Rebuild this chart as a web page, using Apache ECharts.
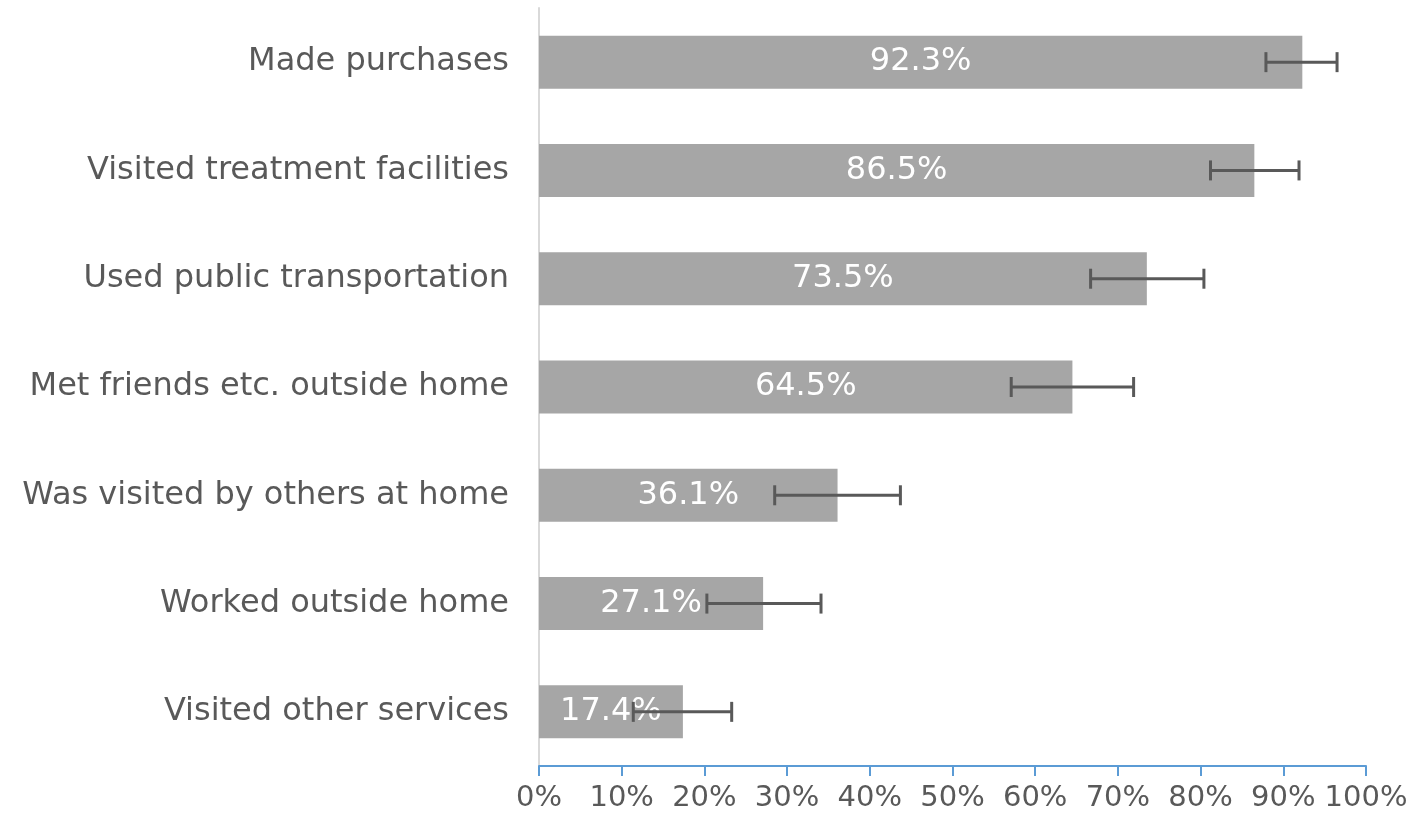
<!DOCTYPE html>
<html lang="en">
<head>
  <meta charset="UTF-8">
  <title>Activities</title>
  <script src="https://cdn.jsdelivr.net/npm/echarts@6/dist/echarts.min.js"></script>
  <style>
    html, body { margin: 0; padding: 0; background: #ffffff; }
    #chart { width: 1418px; height: 819px; }
  </style>
</head>
<body>
<div id="chart"></div>
<script type="text/javascript">
// categories top to bottom
var categories = ['Made purchases', 'Visited treatment facilities', 'Used public transportation',
  'Met friends etc. outside home', 'Was visited by others at home', 'Worked outside home',
  'Visited other services'];
var values = [92.3, 86.5, 73.5, 64.5, 36.1, 27.1, 17.4];
// error bar ends
var errLow = [87.9, 81.2, 66.7, 57.1, 28.5, 20.3, 11.4];
var errHigh = [96.5, 91.9, 80.4, 71.9, 43.7, 34.1, 23.3];
var tickValues = [0, 10, 20, 30, 40, 50, 60, 70, 80, 90, 100];

var errData = [];
for (var i = 0; i < categories.length; i++) {
  errData.push([i, errLow[i], errHigh[i]]);
}

var myChart = echarts.init(document.getElementById('chart'));
var font = 'DejaVu Sans, Verdana, sans-serif';

var option = {
  animation: false,
  grid: { left: 539, right: 52, top: 8, bottom: 53 },
  xAxis: {
    type: 'value',
    min: 0,
    max: 100,
    interval: 10,
    splitLine: { show: false },
    axisLine: { show: true, lineStyle: { color: '#5b9bd5', width: 2 } },
    axisTick: { show: true, length: 10, lineStyle: { color: '#5b9bd5', width: 2 } },
    axisLabel: {
      color: '#595959',
      fontFamily: font,
      fontSize: 29,
      margin: 18,
      formatter: function (v) { return tickValues.indexOf(v) >= 0 ? v + '%' : ''; }
    }
  },
  yAxis: {
    type: 'category',
    inverse: true,
    data: categories,
    axisLine: { show: true, lineStyle: { color: '#d9d9d9', width: 2 } },
    axisTick: { show: false },
    axisLabel: {
      color: '#595959',
      fontFamily: font,
      fontSize: 32,
      margin: 30
    }
  },
  series: [
    {
      type: 'bar',
      data: values,
      barWidth: 53,
      itemStyle: { color: '#a6a6a6' },
      label: {
        show: true,
        position: 'inside',
        color: '#ffffff',
        fontFamily: font,
        fontSize: 32,
        formatter: function (p) { return p.value.toFixed(1) + '%'; }
      },
      z: 2
    },
    {
      type: 'custom',
      data: errData,
      z: 10,
      renderItem: function (params, api) {
        var cat = api.value(0);
        var lo = api.coord([api.value(1), cat]);
        var hi = api.coord([api.value(2), cat]);
        var half = 10;
        var style = { stroke: '#595959', lineWidth: 3 };
        return {
          type: 'group',
          children: [
            { type: 'line', shape: { x1: lo[0], y1: lo[1], x2: hi[0], y2: hi[1] }, style: style },
            { type: 'line', shape: { x1: lo[0], y1: lo[1] - half, x2: lo[0], y2: lo[1] + half }, style: style },
            { type: 'line', shape: { x1: hi[0], y1: hi[1] - half, x2: hi[0], y2: hi[1] + half }, style: style }
          ]
        };
      }
    }
  ]
};
myChart.setOption(option);
</script>
</body>
</html>
